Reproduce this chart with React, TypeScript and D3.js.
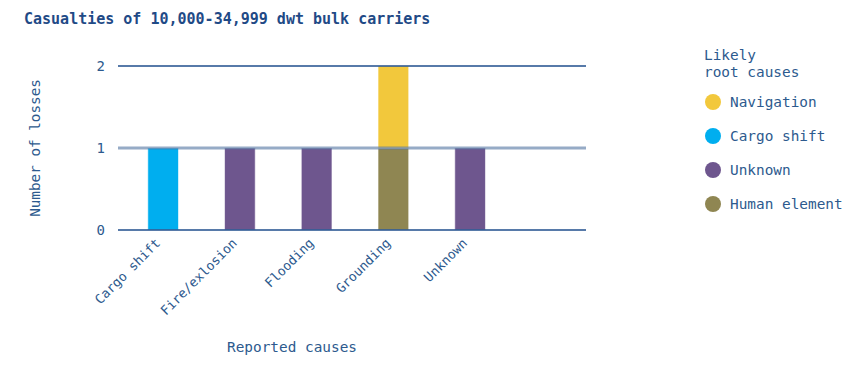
import React, { useEffect, useRef } from 'react';
import * as d3 from 'd3';

const causes = ['Cargo shift', 'Fire/exlosion', 'Flooding', 'Grounding', 'Unknown', ''];
const rootCauses = ['Navigation', 'Cargo shift', 'Unknown', 'Human element'];
const rootColors = ['#f2c83c', '#00aeef', '#6e568e', '#8f8652'];
// losses per reported cause, split by likely root cause
const navigation = [0, 0, 0, 1, 0, 0];
const cargoShift = [1, 0, 0, 0, 0, 0];
const unknown = [0, 1, 1, 0, 1, 0];
const humanElement = [0, 0, 0, 1, 0, 0];
const yTicks = [0, 1, 2];

const stackOrder = ['Human element', 'Cargo shift', 'Unknown', 'Navigation'];

const FONT = '"DejaVu Sans Mono", "Liberation Mono", monospace';
const TEXT = '#2d5a8e';
const LINE = '#1f4e8c';

export default function App() {
  const svgRef = useRef<SVGSVGElement>(null);
  const width = 866;
  const height = 368;

  useEffect(() => {
    if (!svgRef.current) return;
    const svg = d3.select(svgRef.current);
    svg.selectAll('*').remove();

    const rows = causes.map((c, i) => ({
      cause: c,
      'Navigation': navigation[i],
      'Cargo shift': cargoShift[i],
      'Unknown': unknown[i],
      'Human element': humanElement[i],
    }));

    const x = d3.scaleBand<string>()
      .domain(causes)
      .range([124, 586])
      .paddingInner(0.6)
      .paddingOuter(0.31);

    const y = d3.scaleLinear().domain([0, 2]).range([230, 66]);

    const color = d3.scaleOrdinal<string, string>().domain(rootCauses).range(rootColors);

    // Title
    svg.append('text')
      .attr('x', 24).attr('y', 24)
      .attr('fill', '#1f4a86')
      .attr('font-family', FONT)
      .attr('font-weight', 'bold')
      .attr('font-size', '15px')
      .text('Casualties of 10,000-34,999 dwt bulk carriers');

    // Bars
    const series = d3.stack<any>().keys(stackOrder)(rows);
    svg.append('g')
      .selectAll('g')
      .data(series)
      .join('g')
      .attr('fill', d => color(d.key))
      .selectAll('rect')
      .data(d => d.filter(p => p[1] > p[0]))
      .join('rect')
      .attr('x', d => x(d.data.cause)!)
      .attr('y', d => y(d[1]))
      .attr('width', x.bandwidth())
      .attr('height', d => y(d[0]) - y(d[1]))
      .attr('stroke', 'rgba(255,255,255,0.6)')
      .attr('stroke-width', 1);

    // Grid lines
    svg.append('g')
      .selectAll('line')
      .data(yTicks)
      .join('line')
      .attr('x1', 118).attr('x2', 586)
      .attr('y1', d => y(d)).attr('y2', d => y(d))
      .attr('stroke', d => (d === 1 ? 'rgba(80,115,160,0.6)' : LINE))
      .attr('stroke-width', d => (d === 1 ? 3 : 1.3));

    // Y tick labels
    svg.append('g')
      .selectAll('text')
      .data(yTicks)
      .join('text')
      .attr('x', 105)
      .attr('y', d => y(d) + 5)
      .attr('text-anchor', 'end')
      .attr('fill', TEXT)
      .attr('font-family', FONT)
      .attr('font-size', '14px')
      .text(d => String(d));

    // X tick labels
    svg.append('g')
      .selectAll('text')
      .data(causes.filter(c => c !== ''))
      .join('text')
      .attr('transform', d => `translate(${x(d)! + x.bandwidth() / 2 - 2},${244}) rotate(-45)`)
      .attr('text-anchor', 'end')
      .attr('fill', TEXT)
      .attr('font-family', FONT)
      .attr('font-size', '13px')
      .text(d => d);

    // Axis titles
    svg.append('text')
      .attr('transform', `translate(40,148) rotate(-90)`)
      .attr('text-anchor', 'middle')
      .attr('fill', TEXT)
      .attr('font-family', FONT)
      .attr('font-size', '14.3px')
      .text('Number of losses');

    svg.append('text')
      .attr('x', 292).attr('y', 352)
      .attr('text-anchor', 'middle')
      .attr('fill', TEXT)
      .attr('font-family', FONT)
      .attr('font-size', '14.4px')
      .text('Reported causes');

    // Legend
    const legend = svg.append('g').attr('transform', 'translate(704,0)');
    legend.append('text')
      .attr('x', 0).attr('y', 60)
      .attr('fill', TEXT).attr('font-family', FONT).attr('font-size', '14.4px')
      .text('Likely');
    legend.append('text')
      .attr('x', 0).attr('y', 77)
      .attr('fill', TEXT).attr('font-family', FONT).attr('font-size', '14.4px')
      .text('root causes');

    const items = legend.selectAll('g.item')
      .data(rootCauses)
      .join('g')
      .attr('class', 'item')
      .attr('transform', (_, i) => `translate(0,${102 + i * 34})`);
    items.append('circle')
      .attr('cx', 9).attr('cy', 0).attr('r', 8)
      .attr('fill', d => color(d));
    items.append('text')
      .attr('x', 26).attr('y', 5)
      .attr('fill', TEXT).attr('font-family', FONT).attr('font-size', '14.4px')
      .text(d => d);
  }, []);

  return (
    <div style={{ position: 'absolute', left: 0, top: 0 }}>
      <svg ref={svgRef} width={width} height={height} style={{ display: 'block' }} />
    </div>
  );
}
